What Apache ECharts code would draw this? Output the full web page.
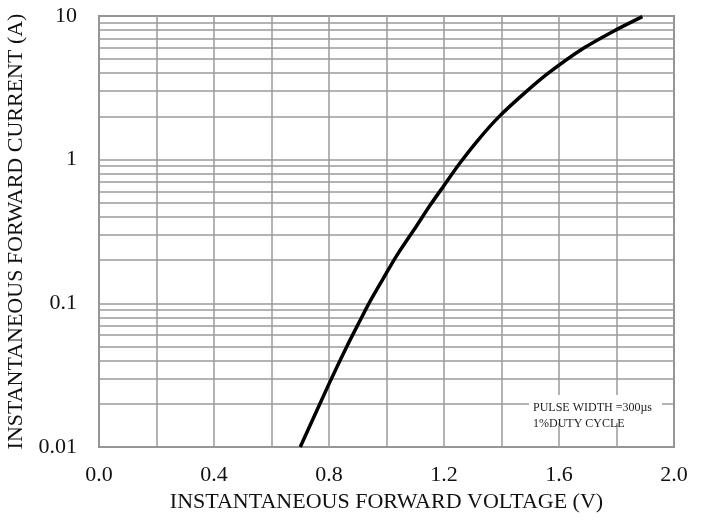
<!DOCTYPE html>
<html>
<head>
<meta charset="utf-8">
<script src="https://cdn.jsdelivr.net/npm/echarts@6/dist/echarts.min.js"></script>
<style>
html,body{margin:0;padding:0;background:#fff;}
#main{width:703px;height:521px;}
</style>
</head>
<body>
<div id="main"></div>
<script>
// Data
var voltage = [0.70, 0.80, 0.862, 0.908, 0.939, 0.988, 1.035, 1.105, 1.151, 1.20, 1.253, 1.32, 1.389, 1.478, 1.565, 1.685, 1.80, 1.89];
var current = [0.01, 0.0275, 0.0501, 0.0759, 0.100, 0.148, 0.214, 0.347, 0.479, 0.661, 0.933, 1.38, 1.97, 2.88, 4.03, 5.96, 8.04, 9.91];
var minorGridValues = [0.02,0.03,0.04,0.05,0.06,0.07,0.08,0.09,0.2,0.3,0.4,0.5,0.6,0.7,0.8,0.9,2,3,4,5,6,7,8,9];
var xTickLabels = ['0.0', '0.4', '0.8', '1.2', '1.6', '2.0'];
var xAxisTitle = 'INSTANTANEOUS FORWARD VOLTAGE (V)';
var yAxisTitle = 'INSTANTANEOUS FORWARD CURRENT (A)';
var noteLines = ['PULSE WIDTH =300µs', '1%DUTY CYCLE'];

var font = '"Liberation Serif", "Times New Roman", serif';
var gridColor = '#9a9a9a';
var chart = echarts.init(document.getElementById('main'), null, {renderer: 'canvas'});

var points = voltage.map(function (v, i) { return [v, current[i]]; });

chart.setOption({
  animation: false,
  backgroundColor: '#ffffff',
  grid: {left: 99, right: 29, top: 16, bottom: 74, show: true, borderColor: '#8a8a8a', borderWidth: 2,
         backgroundColor: 'transparent', containLabel: false, outerBoundsMode: 'none'},
  xAxis: {
    type: 'value', min: 0, max: 2, interval: 0.2,
    name: xAxisTitle, nameLocation: 'middle', nameGap: 44,
    nameTextStyle: {fontFamily: font, fontSize: 22, color: '#111'},
    axisLine: {show: false}, axisTick: {show: false},
    axisLabel: {
      fontFamily: font, fontSize: 22, color: '#111', margin: 17,
      formatter: function (v) {
        var s = v.toFixed(1);
        return xTickLabels.indexOf(s) >= 0 ? s : '';
      }
    },
    splitLine: {show: true, lineStyle: {color: gridColor, width: 1.5}}
  },
  yAxis: {
    type: 'log', logBase: 10, min: 0.01, max: 10,
    name: yAxisTitle, nameLocation: 'middle', nameGap: 67, nameRotate: 90,
    nameTextStyle: {fontFamily: font, fontSize: 22, color: '#111'},
    axisLine: {show: false}, axisTick: {show: false},
    axisLabel: {
      fontFamily: font, fontSize: 22, color: '#111', margin: 22,
      formatter: function (v) { return String(+v.toPrecision(3)); }
    },
    splitLine: {show: true, lineStyle: {color: gridColor, width: 1.5}}
  },
  series: [
    {
      type: 'line', data: [], z: 1, silent: true,
      markLine: {
        silent: true, symbol: ['none', 'none'], animation: false,
        label: {show: false},
        lineStyle: {color: gridColor, width: 1.5, type: 'solid'},
        emphasis: {disabled: true},
        data: minorGridValues.map(function (y) { return {yAxis: y}; })
      }
    },
    {
      type: 'line', data: points, z: 5, smooth: 0.3,
      showSymbol: false, symbol: 'none',
      lineStyle: {color: '#000', width: 3.5}
    }
  ],
  graphic: [
    {
      type: 'rect', z: 10,
      shape: {x: 529, y: 395, width: 133, height: 28},
      style: {fill: '#fff'}
    },
    {
      type: 'text', z: 11, left: 533, top: 400,
      style: {text: noteLines.join('\n'), font: '12px ' + font, fill: '#222', lineHeight: 16}
    }
  ]
});
</script>
</body>
</html>
